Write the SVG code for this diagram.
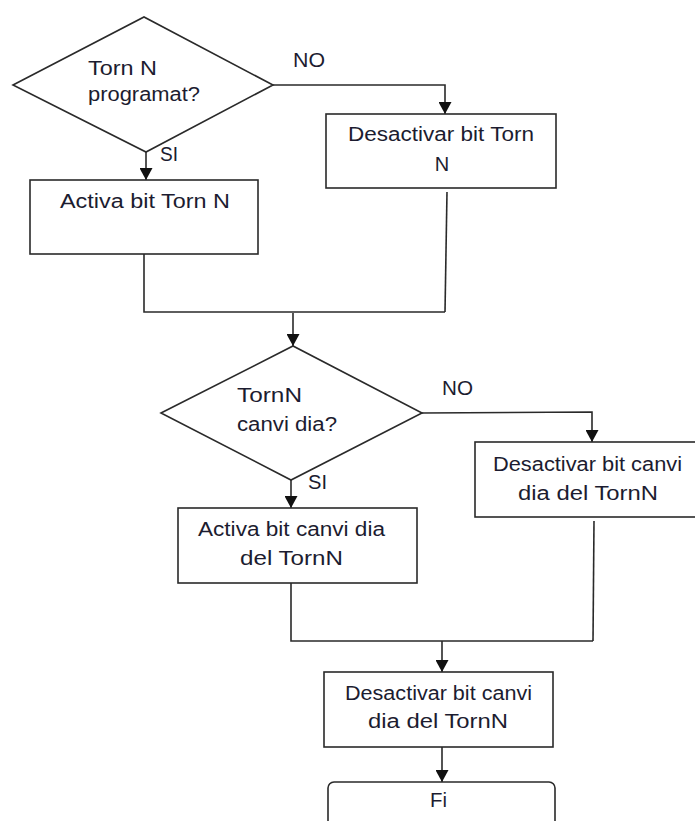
<svg xmlns="http://www.w3.org/2000/svg" width="695" height="821" viewBox="0 0 695 821">
  <defs>
    <marker id="arrow" markerWidth="13" markerHeight="13" refX="12" refY="6.5" orient="auto" markerUnits="userSpaceOnUse">
      <path d="M0,0 L12,6.5 L0,13 Z" fill="#111"/>
    </marker>
    <style>
      .shape { fill: #fff; stroke: #2a2a2a; stroke-width: 1.6; }
      .link { fill: none; stroke: #2a2a2a; stroke-width: 1.6; }
      .arrowed { marker-end: url(#arrow); }
      text { font-family: "Liberation Sans", Arial, sans-serif; font-size: 20px; fill: #1c1c30; }
      .c { text-anchor: middle; }
    </style>
  </defs>
  <rect width="695" height="821" fill="#fff"/>

  <!-- connectors -->
  <g id="connectors">
    <polyline class="link arrowed" points="273,85 445,85 445,114"/>
    <polyline class="link arrowed" points="146,152 146,180"/>
    <polyline class="link" points="144,254 144,312 445,312"/>
    <polyline class="link" points="447,192 445,312"/>
    <polyline class="link arrowed" points="293,313 293,346"/>
    <polyline class="link arrowed" points="422,413 592,412 592,442"/>
    <polyline class="link arrowed" points="291,480 291,508"/>
    <polyline class="link" points="291,583 291,641 593,641"/>
    <polyline class="link" points="594,521 593,641"/>
    <polyline class="link arrowed" points="442,641 442,672"/>
    <polyline class="link arrowed" points="442,747 442,782"/>
  </g>

  <!-- edge labels -->
  <g id="labels">
    <text x="293" y="67" textLength="32" lengthAdjust="spacingAndGlyphs">NO</text>
    <text x="160" y="161" textLength="18" lengthAdjust="spacingAndGlyphs">SI</text>
    <text x="442" y="395" textLength="31" lengthAdjust="spacingAndGlyphs">NO</text>
    <text x="308" y="489" textLength="19" lengthAdjust="spacingAndGlyphs">SI</text>
  </g>

  <g id="decision1">
    <polygon class="shape" points="13,85 144,17 273,85 146,152"/>
    <text x="88" y="75" textLength="69" lengthAdjust="spacingAndGlyphs">Torn N</text>
    <text x="88" y="101" textLength="112" lengthAdjust="spacingAndGlyphs">programat?</text>
  </g>

  <g id="activa-bit-torn">
    <rect class="shape" x="30" y="180" width="228" height="74"/>
    <text x="60" y="208" textLength="170" lengthAdjust="spacingAndGlyphs">Activa bit Torn N</text>
  </g>

  <g id="desactivar-bit-torn">
    <rect class="shape" x="326" y="114" width="230" height="74"/>
    <text x="348" y="141" textLength="186" lengthAdjust="spacingAndGlyphs">Desactivar bit Torn</text>
    <text x="442" y="171" class="c">N</text>
  </g>

  <g id="decision2">
    <polygon class="shape" points="161,413 293,346 422,413 291,480"/>
    <text x="237" y="402" textLength="65" lengthAdjust="spacingAndGlyphs">TornN</text>
    <text x="237" y="431" textLength="100" lengthAdjust="spacingAndGlyphs">canvi dia?</text>
  </g>

  <g id="activa-bit-canvi">
    <rect class="shape" x="178" y="508" width="239" height="75"/>
    <text x="198" y="536" textLength="187" lengthAdjust="spacingAndGlyphs">Activa bit canvi dia</text>
    <text x="240" y="565" textLength="103" lengthAdjust="spacingAndGlyphs">del TornN</text>
  </g>

  <g id="desactivar-bit-canvi-no">
    <rect class="shape" x="475" y="442" width="230" height="75"/>
    <text x="493" y="471" textLength="189" lengthAdjust="spacingAndGlyphs">Desactivar bit canvi</text>
    <text x="518" y="500" textLength="140" lengthAdjust="spacingAndGlyphs">dia del TornN</text>
  </g>

  <g id="desactivar-bit-canvi">
    <rect class="shape" x="324" y="672" width="229" height="75"/>
    <text x="345" y="700" textLength="187" lengthAdjust="spacingAndGlyphs">Desactivar bit canvi</text>
    <text x="368" y="728" textLength="140" lengthAdjust="spacingAndGlyphs">dia del TornN</text>
  </g>

  <g id="fi">
    <rect class="shape" x="328" y="782" width="227" height="60" rx="6" ry="6"/>
    <text x="430" y="807" textLength="17" lengthAdjust="spacingAndGlyphs">Fi</text>
  </g>
</svg>
